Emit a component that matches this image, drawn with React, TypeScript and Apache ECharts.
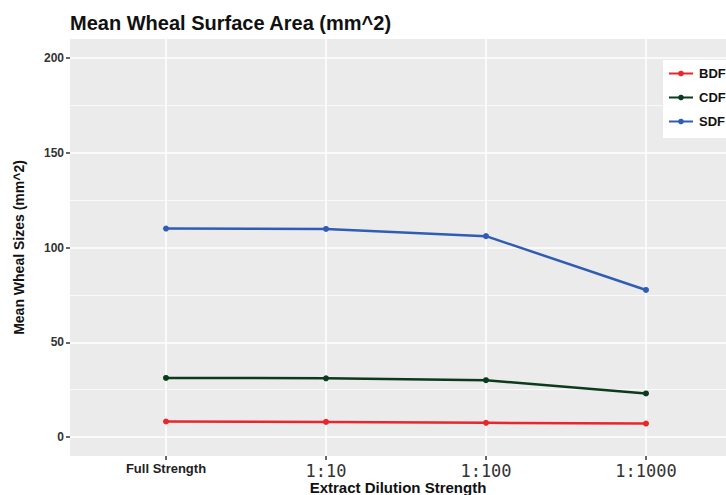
import React, { useEffect, useRef } from "react";
import * as echarts from "echarts";

const categories = ["Full Strength", "1:10", "1:100", "1:1000"];
const seriesNames = ["BDF", "CDF", "SDF"];
const bdf = [8.2, 8.0, 7.5, 7.1];
const cdf = [31.2, 31.0, 30.0, 23.0];
const sdf = [110, 109.8, 106, 77.6];
const yMajorTicks = [0, 50, 100, 150, 200];
const yMinorTicks = [25, 75, 125, 175];
const xTicks = [0, 1, 2, 3];
const colors = ["#E8262B", "#0B3A1C", "#2F5DB5"];

export default function App() {
  const ref = useRef<HTMLDivElement>(null);
  useEffect(() => {
    if (!ref.current) return;
    const chart = echarts.init(ref.current, null, { renderer: "svg" });
    const values = [bdf, cdf, sdf];
    chart.setOption({
      animation: false,
      title: {
        text: "Mean Wheal Surface Area (mm^2)",
        left: 65,
        top: 8,
        textStyle: { fontFamily: "Liberation Sans", fontWeight: "bold", fontSize: 20, color: "#111" },
      },
      legend: {
        orient: "vertical",
        left: 663,
        top: 60,
        backgroundColor: "#ffffff",
        padding: [7, 30, 10, 5],
        itemWidth: 24,
        itemHeight: 7,
        itemGap: 11,
        textStyle: { fontFamily: "Liberation Sans", fontWeight: "bold", fontSize: 13, color: "#111", padding: [0, 0, 0, 1] },
        data: seriesNames,
      },
      grid: {
        left: 70,
        right: 0,
        top: 39,
        bottom: 39,
        show: true,
        backgroundColor: "#EBEBEB",
        borderWidth: 0,
        outerBoundsMode: "none",
        containLabel: false,
      },
      xAxis: {
        type: "value",
        min: -0.6,
        max: 3.5,
        name: "Extract Dilution Strength",
        nameLocation: "middle",
        nameGap: 24,
        nameMoveOverlap: false,
        nameTextStyle: { fontFamily: "Liberation Sans", fontWeight: "bold", fontSize: 15, color: "#111" },
        axisLine: { show: false, onZero: false },
        axisTick: { show: true, length: 4, customValues: xTicks, lineStyle: { color: "#333", width: 1.5 } },
        axisLabel: {
          customValues: xTicks,
          margin: 6,
          formatter: (v: number) => {
            const c = categories[Math.round(v)] ?? "";
            return Math.round(v) === 0 ? "{a|" + c + "}" : "{b|" + c + "}";
          },
          rich: {
            a: { fontFamily: "Liberation Sans", fontWeight: "bold", fontSize: 13, color: "#222" },
            b: { fontFamily: "DejaVu Sans Mono", fontSize: 17, color: "#333" },
          },
        },
        splitLine: { show: true, lineStyle: { color: "#ffffff", width: 1.6 } },
      },
      yAxis: [
        {
          type: "value",
          min: -10,
          max: 210,
          name: "Mean Wheal Sizes (mm^2)",
          nameLocation: "middle",
          nameGap: 44,
          nameTextStyle: { fontFamily: "Liberation Sans", fontWeight: "bold", fontSize: 14, color: "#111" },
          axisLine: { show: false, onZero: false },
          axisTick: { show: true, length: 4, customValues: yMajorTicks, lineStyle: { color: "#333", width: 1.5 } },
          axisLabel: {
            customValues: yMajorTicks,
            margin: 6,
            fontFamily: "Liberation Sans",
            fontWeight: "bold",
            fontSize: 12,
            color: "#333",
          },
          splitLine: { show: true, lineStyle: { color: "#ffffff", width: 1.6 } },
        },
        {
          type: "value",
          min: -10,
          max: 210,
          position: "left",
          axisLine: { show: false, onZero: false },
          axisTick: { show: false, customValues: yMinorTicks },
          axisLabel: { show: false, customValues: yMinorTicks },
          splitLine: { show: true, lineStyle: { color: "#FAFAFA", width: 1 } },
        },
      ],
      series: seriesNames.map((n, i) => ({
        name: n,
        type: "line",
        yAxisIndex: 0,
        data: values[i].map((v, j) => [j, v]),
        symbol: "circle",
        symbolSize: 6,
        itemStyle: { color: colors[i] },
        lineStyle: { color: colors[i], width: 2.5 },
        z: 3,
      })),
    });
    return () => chart.dispose();
  }, []);
  return <div ref={ref} style={{ width: 726, height: 495, position: "absolute", left: 0, top: 0 }} />;
}
